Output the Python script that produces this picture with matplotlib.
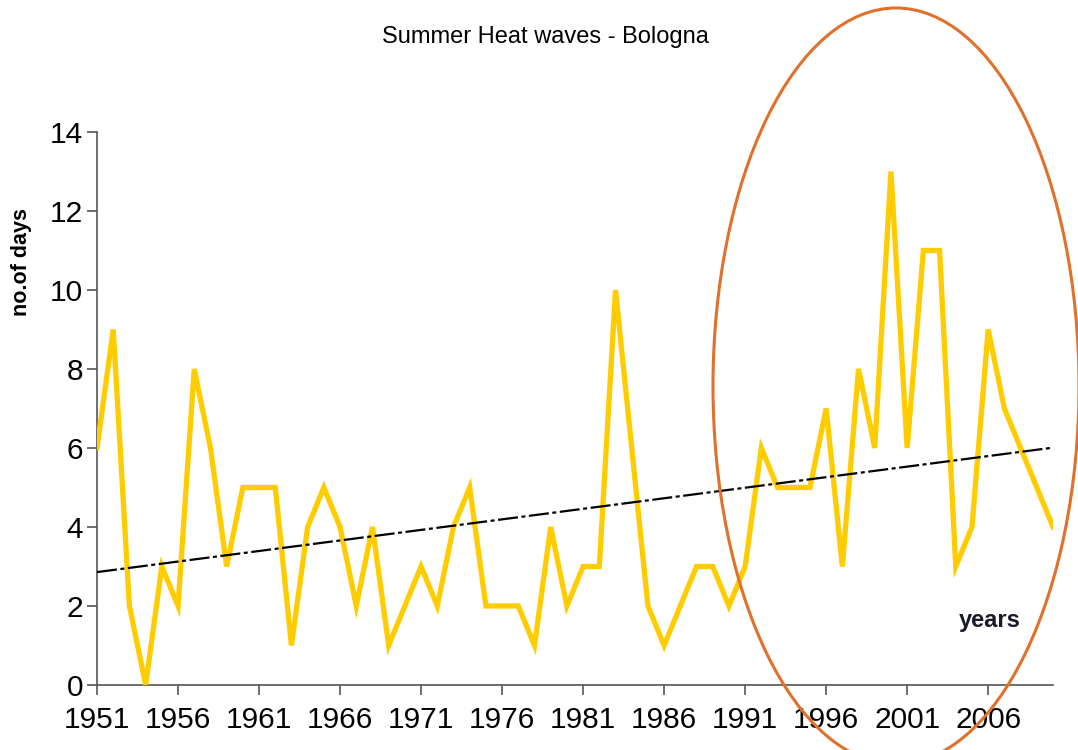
import numpy as np
import matplotlib.pyplot as plt
from matplotlib.patches import Ellipse

# summer heat wave days per year, Bologna
years = np.arange(1951, 2011)
days = [6, 9, 2, 0, 3, 2, 8, 6, 3, 5,
        5, 5, 1, 4, 5, 4, 2, 4, 1, 2,
        3, 2, 4, 5, 2, 2, 2, 1, 4, 2,
        3, 3, 10, 6, 2, 1, 2, 3, 3, 2,
        3, 6, 5, 5, 5, 7, 3, 8, 6, 13,
        6, 11, 11, 3, 4, 9, 7, 6, 5, 4]
tick_years = list(range(1951, 2010, 5))
y_ticks = list(range(0, 15, 2))

narrow = ['Liberation Sans Narrow', 'Liberation Sans', 'DejaVu Sans']
plt.rcParams['font.family'] = narrow

fig = plt.figure(figsize=(10.78, 7.5), dpi=100)
ax = fig.add_axes([0.090, 0.0867, 0.8868, 0.7373])

ax.plot(years, days, color='#FFCC00', lw=3.8, solid_joinstyle='miter', zorder=3)

# linear trend (like excel's trendline)
p = np.polyfit(years, days, 1)
ax.plot([years[0], years[-1]], np.polyval(p, [years[0], years[-1]]),
        color='black', lw=1.6, linestyle=(0, (9, 1.6, 1.8, 1.6)), zorder=4)

ax.set_xlim(1951, 2010)
ax.set_ylim(0, 14)
ax.set_xticks(tick_years)
ax.set_yticks(y_ticks)
ax.tick_params(axis='both', labelsize=21.5, colors='#555555', labelcolor='black',
               length=7, width=1.2)
ax.tick_params(axis='x', pad=8)
ax.tick_params(axis='y', pad=3)
for s in ['top', 'right']:
    ax.spines[s].set_visible(False)
for s in ['left', 'bottom']:
    ax.spines[s].set_color('#555555')
    ax.spines[s].set_linewidth(1.2)

fig.text(545 / 1078, 1 - 37 / 750, 'Summer Heat waves - Bologna',
         ha='center', va='center', fontsize=17)
fig.text(22 / 1078, 1 - 262 / 750, 'no.of days', rotation=90,
         ha='center', va='center', fontsize=15.5, fontweight='bold')
fig.text(990 / 1078, 1 - 620 / 750, 'years', ha='center', va='center',
         fontsize=17, fontweight='bold', color='#1a1a2e',
         family=['Liberation Sans', 'DejaVu Sans'])

# orange ring round the recent years
ring = Ellipse((896 / 1078, 1 - 386 / 750), 366 / 1078, 756 / 750,
               transform=fig.transFigure, fill=False, edgecolor='#E0702A',
               lw=2.2, clip_on=False)
fig.add_artist(ring)

fig.savefig('out.png', dpi=100)
